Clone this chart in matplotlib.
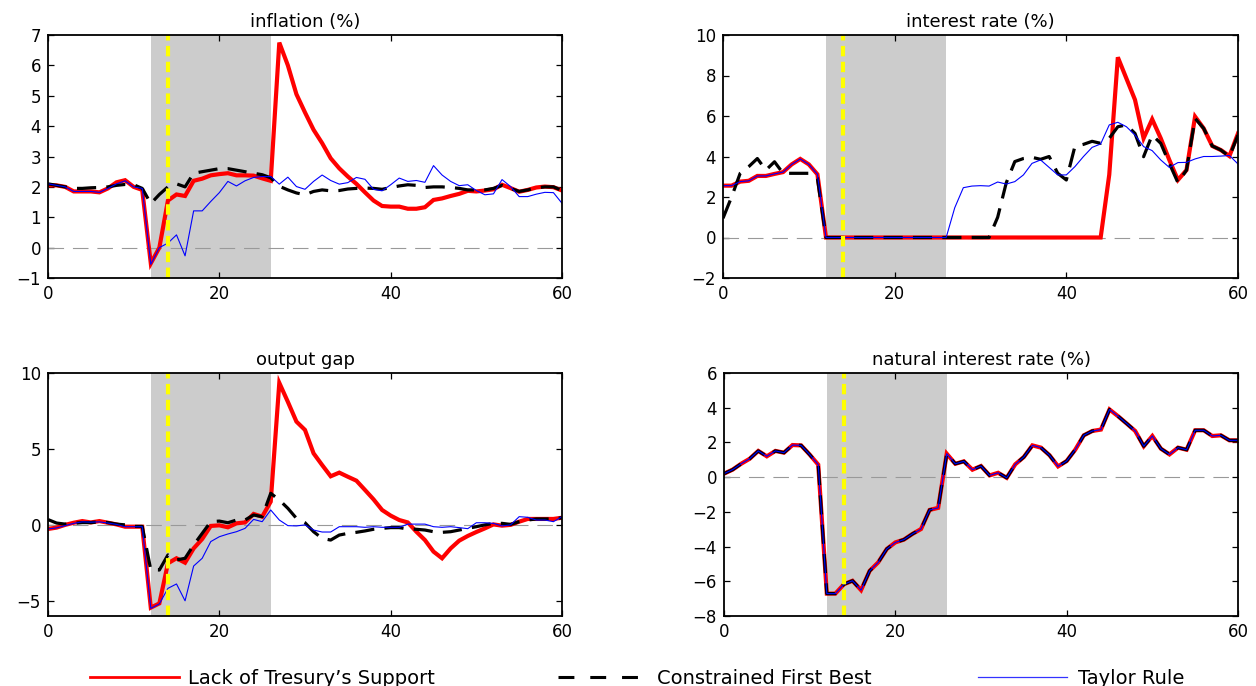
import numpy as np
import matplotlib
matplotlib.use("Agg")
import matplotlib.pyplot as plt
from matplotlib.lines import Line2D

# quarters after the start of the simulation
quarters = np.arange(61)

# zero lower bound episode and announcement date
zlb_start, zlb_end = 12, 26
announce = 14

policy_labels = ["Lack of Tresury\u2019s Support", "Constrained First Best", "Taylor Rule"]

inflation_lack = [2.05, 2.05, 2.0, 1.85, 1.85, 1.85, 1.82, 1.95, 2.15, 2.22, 2.0, 1.9,
                  -0.52, 0.0, 1.55, 1.75, 1.7, 2.2, 2.27, 2.38, 2.42, 2.45, 2.38, 2.38, 2.37, 2.28, 2.2,
                  6.75, 6.0, 5.05, 4.45, 3.88, 3.44, 2.94, 2.61, 2.34, 2.1, 1.82, 1.55, 1.37, 1.35,
                  1.35, 1.28, 1.28, 1.33, 1.57, 1.62, 1.7, 1.77, 1.87, 1.85,
                  1.88, 1.92, 2.07, 1.96, 1.84, 1.9, 1.98, 2.01, 1.99, 1.88]
inflation_cfb = [2.1, 2.05, 2.0, 1.95, 1.95, 1.97, 1.98, 2.0, 2.05, 2.08, 2.07, 1.95,
                 1.45, 1.75, 2.0, 2.1, 2.0, 2.45, 2.5, 2.55, 2.6, 2.6, 2.55, 2.5, 2.45, 2.4, 2.3,
                 2.02, 1.9, 1.8, 1.74, 1.85, 1.9, 1.87, 1.88, 1.93, 1.95, 1.96, 1.95, 1.92, 1.98,
                 2.03, 2.07, 2.05, 1.98, 2.0, 2.0, 1.98, 1.95, 1.9, 1.9,
                 1.9, 1.95, 2.05, 1.95, 1.85, 1.9, 1.97, 2.0, 2.0, 1.88]
inflation_taylor = [2.1, 2.05, 2.0, 1.85, 1.85, 1.85, 1.82, 1.95, 2.1, 2.2, 2.0, 1.95,
                    -0.55, 0.0, 0.15, 0.42, -0.27, 1.21, 1.21, 1.52, 1.81, 2.18, 2.03, 2.2, 2.31, 2.34, 2.34,
                    2.09, 2.32, 2.01, 1.92, 2.18, 2.39, 2.21, 2.09, 2.14, 2.31, 2.25, 1.92, 1.87, 2.07,
                    2.29, 2.18, 2.21, 2.15, 2.7, 2.39, 2.18, 2.04, 2.07, 1.88,
                    1.74, 1.77, 2.24, 2.01, 1.68, 1.68, 1.76, 1.82, 1.81, 1.46]

rate_lack = ([2.56, 2.56, 2.76, 2.8, 3.04, 3.04, 3.14, 3.23, 3.61, 3.88, 3.61, 3.12]
             + [0.0] * 33
             + [3.1, 8.9, 7.85, 6.8, 4.9, 5.84, 4.9, 3.83, 2.84, 3.33, 5.97, 5.39, 4.52, 4.32, 4.02, 5.14])
rate_cfb = ([0.95, 2.0, 3.17, 3.5, 3.9, 3.33, 3.74, 3.17, 3.17, 3.17, 3.17, 2.92]
            + [0.0] * 20
            + [1.0, 2.7, 3.75, 3.9, 3.96, 3.86, 4.0, 3.17, 2.84,
               4.5, 4.6, 4.75, 4.65, 4.9, 5.47, 5.56, 5.14, 3.99, 5.06,
               4.65, 3.66, 2.71, 3.33, 5.88, 5.39, 4.52, 4.32, 4.0, 5.06])
rate_taylor = ([2.56, 2.56, 2.76, 2.8, 3.04, 3.04, 3.14, 3.23, 3.61, 3.88, 3.61, 3.12]
               + [0.0] * 15
               + [1.47, 2.46, 2.54, 2.56, 2.54, 2.74, 2.64, 2.76, 3.09, 3.66, 3.83, 3.46, 3.09, 3.09,
                  3.5, 4.0, 4.45, 4.62, 5.56, 5.69, 5.47, 5.06, 4.49, 4.29,
                  3.83, 3.46, 3.7, 3.71, 3.88, 4.0, 4.0, 4.02, 4.05, 3.63])

gap_lack = [-0.27, -0.18, 0.0, 0.14, 0.25, 0.16, 0.25, 0.14, 0.03, -0.12, -0.12, -0.12,
            -5.45, -5.17, -2.53, -2.2, -2.49, -1.55, -0.93, -0.07, -0.03, -0.16, 0.1, 0.16, 0.72, 0.54, 1.53,
            9.35, 8.1, 6.8, 6.25, 4.71, 3.94, 3.2, 3.44, 3.17, 2.91, 2.3, 1.68, 0.98, 0.61,
            0.32, 0.16, -0.45, -1.0, -1.76, -2.2, -1.55, -1.04, -0.73, -0.47,
            -0.23, 0.03, -0.05, 0.0, 0.21, 0.39, 0.39, 0.39, 0.39, 0.47]
gap_cfb = [0.35, 0.12, 0.05, 0.1, 0.15, 0.15, 0.2, 0.15, 0.05, 0.0, -0.1, -0.1,
           -2.97, -2.97, -1.98, -2.31, -2.2, -1.33, -0.56, 0.21, 0.25, 0.14, 0.32, 0.32, 0.65, 0.54, 2.08,
           1.64, 1.09, 0.43, 0.14, -0.45, -0.89, -1.0, -0.67, -0.56, -0.49, -0.4, -0.29, -0.23, -0.18,
           -0.18, -0.27, -0.29, -0.34, -0.45, -0.49, -0.45, -0.34, -0.23, -0.12,
           0.0, 0.1, 0.1, 0.03, 0.21, 0.32, 0.39, 0.39, 0.39, 0.47]
gap_taylor = [-0.27, -0.2, -0.05, 0.1, 0.2, 0.18, 0.2, 0.12, 0.03, -0.12, -0.12, -0.12,
              -5.5, -5.2, -4.18, -3.89, -5.0, -2.71, -2.2, -1.1, -0.78, -0.6, -0.45, -0.23, 0.36, 0.21, 0.98,
              0.32, -0.05, -0.07, 0.0, -0.34, -0.47, -0.47, -0.12, -0.12, -0.12, -0.16, -0.12, -0.16, -0.16,
              -0.16, 0.05, 0.05, 0.05, -0.12, -0.16, -0.12, -0.18, -0.25, 0.14,
              0.14, 0.1, -0.07, 0.0, 0.54, 0.5, 0.32, 0.32, 0.21, 0.54]

# natural rate is exogenous, identical under all three policies
natural_rate = [0.2, 0.43, 0.77, 1.06, 1.51, 1.2, 1.51, 1.41, 1.85, 1.83, 1.3, 0.72,
                -6.71, -6.71, -6.17, -5.97, -6.51, -5.4, -4.91, -4.14, -3.76, -3.6, -3.27, -2.99, -1.89, -1.77,
                1.35, 0.77, 0.91, 0.43, 0.64, 0.1, 0.25, -0.04, 0.74, 1.16, 1.83, 1.7, 1.26, 0.62, 0.93,
                1.58, 2.41, 2.66, 2.74, 3.9, 3.51, 3.09, 2.66, 1.78, 2.37,
                1.64, 1.31, 1.7, 1.58, 2.7, 2.7, 2.37, 2.41, 2.12, 2.12]

plt.rcParams['font.family'] = ['DejaVu Sans']
plt.rcParams['axes.unicode_minus'] = True

RED_KW = dict(color='#ff0000', lw=3.0, solid_joinstyle='miter', zorder=3)
BLACK_KW = dict(color='k', lw=2.3, dashes=(6, 3.2), zorder=4)
BLUE_KW = dict(color='#0000ff', lw=0.8, zorder=5)


def draw_panel(ax, title, lack, cfb, taylor, ylim, yticks):
    ax.axvspan(zlb_start, zlb_end, color='0.8', lw=0, zorder=1)
    ax.axhline(0, color='0.6', lw=0.8, dashes=(14, 8), zorder=2)
    ax.plot(quarters, lack, **RED_KW)
    ax.plot(quarters, cfb, **BLACK_KW)
    ax.plot(quarters, taylor, **BLUE_KW)
    ax.axvline(announce, color='#ffff00', lw=3.0, dashes=(2.5, 1.3), zorder=6)

    ax.set_xlim(0, 60)
    ax.set_ylim(*ylim)
    ax.set_xticks([0, 20, 40, 60])
    ax.set_yticks(yticks)
    ax.tick_params(direction='in', length=4, width=0.9, top=True, right=True,
                   labelsize=12, pad=5)
    for sp in ax.spines.values():
        sp.set_linewidth(1.3)
        sp.set_zorder(7)
    ax.set_title(title, fontsize=13, pad=6)


fig = plt.figure(figsize=(12.56, 6.86), dpi=100)

W, H = 1256, 686
boxes = [(48, 35, 562, 278), (723, 35, 1238, 278),
         (48, 373, 562, 616), (724, 373, 1238, 616)]
axes = [fig.add_axes([l / W, 1 - b / H, (r - l) / W, (b - t) / H]) for l, t, r, b in boxes]

draw_panel(axes[0], 'inflation (%)', inflation_lack, inflation_cfb, inflation_taylor,
           (-1, 7), range(-1, 8))
draw_panel(axes[1], 'interest rate (%)', rate_lack, rate_cfb, rate_taylor,
           (-2, 10), range(-2, 11, 2))
draw_panel(axes[2], 'output gap', gap_lack, gap_cfb, gap_taylor,
           (-6, 10), [-5, 0, 5, 10])
draw_panel(axes[3], 'natural interest rate (%)', natural_rate, natural_rate, natural_rate,
           (-8, 6), range(-8, 7, 2))

# legend handles are drawn thinner than the plotted lines
legend_handles = [
    Line2D([], [], color='#ff0000', lw=2.0),
    Line2D([], [], color='k', lw=2.2, dashes=(5.2, 5.2)),
    Line2D([], [], color='#3333ff', lw=0.9),
]
# one legend per entry so the three labels sit spread out along the bottom
legend_specs = [(90, 4.6, 0.45), (558, 4.1, 1.0), (978, 4.6, 0.55)]
for handle, label, (x0, hl, tp) in zip(legend_handles, policy_labels, legend_specs):
    fig.legend([handle], [label], loc='center left', bbox_to_anchor=(x0 / W, 1 - 678 / H),
               frameon=False, fontsize=14, handlelength=hl, handletextpad=tp,
               borderpad=0, borderaxespad=0)

fig.savefig('out.png', dpi=100)
